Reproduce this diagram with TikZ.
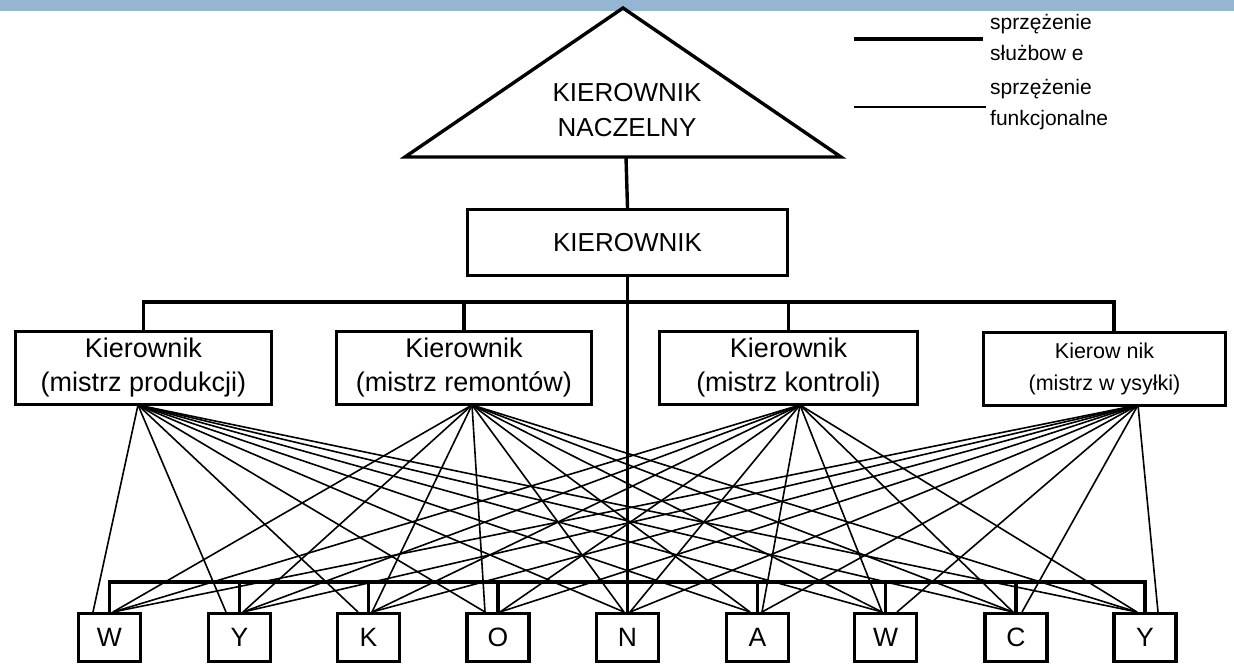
\documentclass[tikz,border=0pt]{standalone}
\usepackage{fontspec}
\setmainfont{Liberation Sans}
\usetikzlibrary{calc}
\definecolor{topbar}{HTML}{94B6D2}
\begin{document}
\begin{tikzpicture}[x=1pt,y=-1pt,
  service/.style={line width=3.4pt},
  func/.style={line width=1.6pt},
  box/.style={draw, line width=3.4pt, inner sep=0pt, align=center},
  midbox/.style={box, minimum height=73pt, font=\fontsize{27}{34}\selectfont},
  letterbox/.style={box, minimum width=62pt, minimum height=48pt, font=\fontsize{26.5}{30}\selectfont},
  legtext/.style={anchor=west, align=left, inner sep=0pt, font=\fontsize{21}{31}\selectfont}]
\useasboundingbox (0,0) rectangle (1234,666);
\fill[topbar] (0,0) rectangle (1234,11);

% triangle (kierownik naczelny)
\coordinate (tl) at (405,157);
\coordinate (apex) at (623,8);
\coordinate (tr) at (841,157);
\coordinate (tribase) at (626,157);
\draw[service, line join=miter] (tl) -- (apex) -- (tr) -- cycle;
\node[align=center, font=\fontsize{26}{35}\selectfont] (nacz) at (627,110) {KIEROWNIK\\NACZELNY};

% kierownik
\node[box, minimum width=320pt, minimum height=66pt, font=\fontsize{26}{30}\selectfont] (kier) at (627.5,242.5) {KIEROWNIK};

% middle managers
\node[midbox, minimum width=256pt] (m1) at (143.5,368) {Kierownik\\(mistrz produkcji)};
\node[midbox, minimum width=255pt] (m2) at (464,368) {Kierownik\\(mistrz remontów)};
\node[midbox, minimum width=258pt] (m3) at (788.5,368) {Kierownik\\(mistrz kontroli)};
\node[midbox, minimum width=242pt, font=\fontsize{21.5}{32}\selectfont] (m4) at (1104.5,369) {Kierow nik\\(mistrz w ysyłki)};

% workers
\node[letterbox] (b1) at (109.5,637.5) {W};
\node[letterbox] (b2) at (239.5,637.5) {Y};
\node[letterbox] (b3) at (368.5,637.5) {K};
\node[letterbox] (b4) at (498,637.5) {O};
\node[letterbox] (b5) at (627.5,637.5) {N};
\node[letterbox] (b6) at (757.5,637.5) {A};
\node[letterbox] (b7) at (885.5,637.5) {W};
\node[letterbox] (b8) at (1016,637.5) {C};
\node[letterbox] (b9) at (1145,637.5) {Y};

% service lines
\draw[service] (tribase) -- (kier.north);
\draw[service] (kier.south) -- (b5.north);
\coordinate (m4top) at (1114,331);
\draw[service] (m1.north) -- ++(0,-28) -| (m4top);
\draw[service] (m2.north) -- ++(0,-28);
\draw[service] (m3.north) -- ++(0,-28);
\draw[service] (b1.north) -- ++(0,-30) -| (b9.north);
\foreach \k in {2,3,4,6,7,8} \draw[service] (b\k.north) -- ++(0,-30);

% functional lines
\coordinate (o1) at (138,405);
\coordinate (o2) at (472,405);
\coordinate (o3) at (800,405);
\coordinate (o4) at (1138,405);
\foreach \k/\l/\r in {1/93/113, 2/226/243, 3/358/372, 4/485/500, 5/624/630, 6/750/762, 7/882/897, 8/1013/1022, 9/1137/1158}{
  \coordinate (b\k L) at (\l,612);
  \coordinate (b\k R) at (\r,612);
}
\foreach \t in {b1L,b2L,b3L,b4L,b5L,b6L,b7L,b8L,b9L} \draw[func] (o1) -- (\t);
\foreach \t in {b1R,b2R,b3R,b4L,b5L,b6L,b7L,b8L,b9L} \draw[func] (o2) -- (\t);
\foreach \t in {b1R,b2R,b3R,b4R,b5R,b6R,b7L,b8L,b9L} \draw[func] (o3) -- (\t);
\foreach \t in {b1R,b2R,b3R,b4R,b5R,b6R,b7R,b8R,b9R} \draw[func] (o4) -- (\t);

% legend
\coordinate (lg1a) at (854,39);
\coordinate (lg1b) at (983,39);
\coordinate (lg2a) at (854,107);
\coordinate (lg2b) at (986,107);
\draw[line width=4pt] (lg1a) -- (lg1b);
\draw[line width=2pt] (lg2a) -- (lg2b);
\node[legtext] (leg1) at (990,37) {sprzężenie\\służbow e};
\node[legtext] (leg2) at (990,105) {sprzężenie\\funkcjonalne};
\end{tikzpicture}
\end{document}
